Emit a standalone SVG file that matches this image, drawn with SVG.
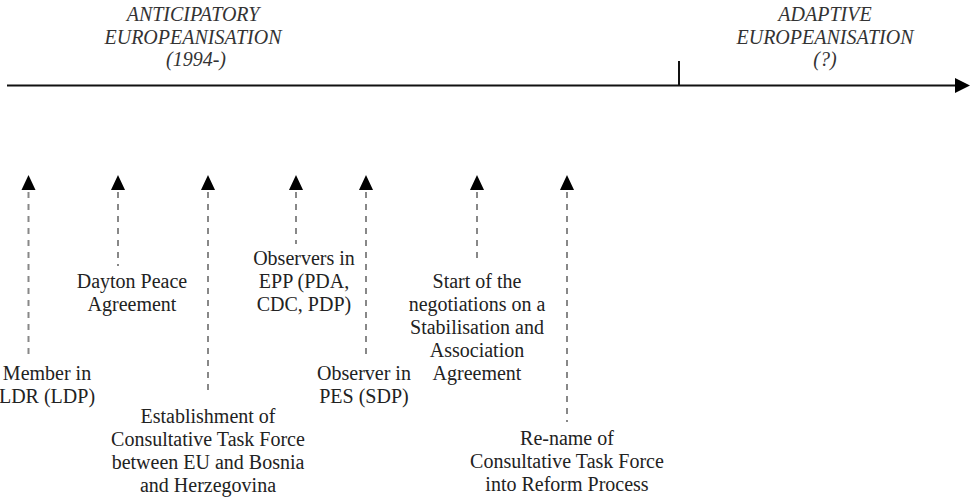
<svg xmlns="http://www.w3.org/2000/svg" width="972" height="500" viewBox="0 0 972 500">
<style>
text{font-family:"Liberation Serif","Times New Roman",Times,"Noto Serif","DejaVu Serif",FreeSerif,Georgia,serif;font-size:20px;fill:#222;text-anchor:middle}
.title{font-style:italic;fill:#333}
.axis{stroke:#111;stroke-width:2;fill:none}
.dash{stroke:#888;stroke-width:2;stroke-dasharray:6 6;fill:none}
.head{fill:#000}
</style>
<rect width="972" height="500" fill="#fff"/>
<g id="timeline">
<line class="axis" x1="7" y1="85.5" x2="957" y2="85.5"/>
<polygon class="head" points="955,78 970,85.5 955,93"/>
<line class="axis" x1="679" y1="61" x2="679" y2="85"/>
</g>
<g id="phase-anticipatory">
<text class="title" x="193" y="21">ANTICIPATORY</text>
<text class="title" x="193" y="44">EUROPEANISATION</text>
<text class="title" x="196" y="66">(1994-)</text>
</g>
<g id="phase-adaptive">
<text class="title" x="825" y="21">ADAPTIVE</text>
<text class="title" x="825" y="44">EUROPEANISATION</text>
<text class="title" x="825" y="66">(?)</text>
</g>
<g id="connectors">
<line class="dash" x1="28.5" y1="192" x2="28.5" y2="354"/>
<polygon class="head" points="21.5,190 28.5,175 35.5,190"/>
<line class="dash" x1="118" y1="192" x2="118" y2="266"/>
<polygon class="head" points="111,190 118,175 125,190"/>
<line class="dash" x1="208" y1="192" x2="208" y2="392"/>
<polygon class="head" points="201,190 208,175 215,190"/>
<line class="dash" x1="296" y1="192" x2="296" y2="244"/>
<polygon class="head" points="289,190 296,175 303,190"/>
<line class="dash" x1="366" y1="192" x2="366" y2="354"/>
<polygon class="head" points="359,190 366,175 373,190"/>
<line class="dash" x1="477" y1="192" x2="477" y2="264"/>
<polygon class="head" points="470,190 477,175 484,190"/>
<line class="dash" x1="567" y1="192" x2="567" y2="422"/>
<polygon class="head" points="560,190 567,175 574,190"/>
</g>
<g id="n-member">
<text x="47" y="380">Member in</text>
<text x="47" y="403">LDR (LDP)</text>
</g>
<g id="n-dayton">
<text x="132" y="288">Dayton Peace</text>
<text x="132" y="311">Agreement</text>
</g>
<g id="n-establishment">
<text x="208" y="423">Establishment of</text>
<text x="208" y="446">Consultative Task Force</text>
<text x="208" y="469">between EU and Bosnia</text>
<text x="208" y="492">and Herzegovina</text>
</g>
<g id="n-epp">
<text x="304" y="265">Observers in</text>
<text x="304" y="288">EPP (PDA,</text>
<text x="304" y="311">CDC, PDP)</text>
</g>
<g id="n-pes">
<text x="364" y="380">Observer in</text>
<text x="364" y="403">PES (SDP)</text>
</g>
<g id="n-saa">
<text x="477" y="288">Start of the</text>
<text x="477" y="311">negotiations on a</text>
<text x="477" y="334">Stabilisation and</text>
<text x="477" y="357">Association</text>
<text x="477" y="380">Agreement</text>
</g>
<g id="n-rename">
<text x="567" y="445">Re-name of</text>
<text x="567" y="468">Consultative Task Force</text>
<text x="567" y="491">into Reform Process</text>
</g>
</svg>
